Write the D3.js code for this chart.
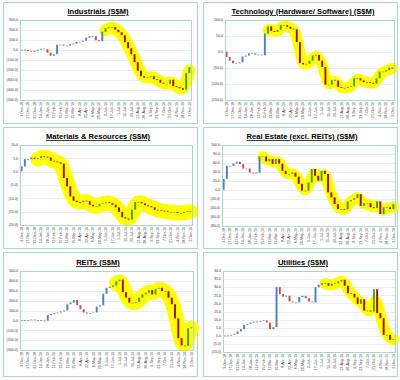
<!DOCTYPE html>
<html>
<head>
<meta charset="utf-8">
<script src="https://cdn.jsdelivr.net/npm/d3@7"></script>
<style>
  body { margin: 0; background: #fff; }
  text { font-family: "Liberation Sans", Arial, sans-serif; }
  .title { font-weight: bold; text-decoration: underline; }
</style>
</head>
<body>
<div id="chart"></div>
<script>
// weekly dates (Mondays)
var dates = ['3-Dec-18','10-Dec-18','17-Dec-18','24-Dec-18','31-Dec-18','7-Jan-19','14-Jan-19','21-Jan-19','28-Jan-19',
  '4-Feb-19','11-Feb-19','18-Feb-19','25-Feb-19','4-Mar-19','11-Mar-19','18-Mar-19','25-Mar-19','1-Apr-19','8-Apr-19',
  '15-Apr-19','22-Apr-19','29-Apr-19','6-May-19','13-May-19','20-May-19','27-May-19','3-Jun-19','10-Jun-19','17-Jun-19',
  '24-Jun-19','1-Jul-19','8-Jul-19','15-Jul-19','22-Jul-19','29-Jul-19','5-Aug-19','12-Aug-19','19-Aug-19','26-Aug-19',
  '2-Sep-19','9-Sep-19','16-Sep-19','23-Sep-19','30-Sep-19','7-Oct-19','14-Oct-19','21-Oct-19','28-Oct-19','4-Nov-19',
  '11-Nov-19','18-Nov-19','25-Nov-19','2-Dec-19'];

// cumulative net flows (S$M) at end of each week
var industrials = [0,-3,-15,-20,-10,0,10,5,-30,-60,-45,50,50,40,40,55,60,80,80,90,120,135,135,95,85,180,
  215,225,225,200,175,145,75,15,-45,-125,-210,-265,-280,-275,-265,-295,-300,-330,-340,-340,-300,-365,-375,-385,-400,-235,-175];
var technology = [-17,-28,-36,-36,-33,-15,-12,-5,-5,-9,-9,-11,57,79,65,62,68,83,83,78,72,70,30,-35,-40,-38,
  -28,-12,-10,-28,-48,-103,-103,-88,-90,-110,-113,-113,-110,-108,-83,-83,-90,-95,-95,-97,-100,-83,-62,-62,-58,-50,-53];
var materials = [1.9,4.6,4.6,5.2,4.6,5.0,5.7,5.5,5.2,4.0,3.7,3.4,2.9,-2.5,-5.6,-9.4,-11.0,-11.5,-11.6,-11.0,-11.2,-12.5,
  -13.1,-13.1,-12.2,-12.0,-11.6,-11.9,-12.5,-13.5,-15.2,-17.2,-17.7,-18.1,-14.4,-11.5,-11.5,-12.0,-12.7,-13.1,-13.5,-14.4,
  -14.6,-14.8,-15.0,-15.2,-15.2,-15.2,-15.6,-15.6,-15.2,-15.0,-15.0];
var realEstate = [24,53,53,58,62,57,47,47,38,36,38,74,74,63,68,57,68,58,42,35,35,38,29,13,-2,-2,16,46,31,20,42,35,
  -6,-17,-32,-43,-43,-44,-26,-23,-19,-10,-36,-30,-30,-39,-41,-26,-54,-39,-39,-43,-32];
var reits = [0,0,0,5,0,0,-5,-5,50,60,70,77,87,97,160,177,203,150,110,77,67,70,77,137,150,267,327,337,350,393,
  410,283,227,177,177,183,227,260,277,303,260,317,327,293,293,227,160,17,-183,-257,-263,-83,-73];
var utilities = [0,0,0.4,1,2.5,3.9,6.6,7.2,8,8.6,8.6,9,9.3,8,3.9,5.1,29.8,25.5,24,24.5,21,20.4,20.4,23.7,24.5,23,21,
  20.4,29.8,31.3,32.3,32.3,30.7,31.9,32.3,33.3,34.4,30.7,26.1,25.7,23.5,19.5,22.4,15.4,15.4,14.8,28.6,13.8,10.7,0.4,0.4,-2.7,-2.3];

var titles = ['Industrials (S$M)', 'Technology (Hardware/ Software) (S$M)', 'Materials & Resources (S$M)',
  'Real Estate (excl. REITs) (S$M)', 'REITs (S$M)', 'Utilities (S$M)'];
var seriesList = [industrials, technology, materials, realEstate, reits, utilities];
// first highlighted week of each chart
var highlightStart = [26, 13, 5, 12, 29, 31];
// y axis ticks
var yTicks = [
  [300,200,100,0,-100,-200,-300,-400,-500],
  [100,50,0,-50,-100,-150],
  [10,5,0,-5,-10,-15,-20],
  [100,80,60,40,20,0,-20,-40,-60,-80],
  [500,400,300,200,100,0,-100,-200,-300],
  [40,35,30,25,20,15,10,5,0,-5,-10]
];

// panel layout: outer box and plot area
var layout = [
  {box: [3, 2, 194, 121], plot: [20, 20, 171, 80], tx: 98, ty: 14, hw: 12},
  {box: [203, 2, 194, 121], plot: [225, 20, 169, 80], tx: 303, ty: 14, hw: 11},
  {box: [3, 127, 194, 121], plot: [20, 145, 172, 80], tx: 98, ty: 139, hw: 15},
  {box: [203, 127, 194, 121], plot: [222, 145, 173, 81], tx: 302, ty: 139, hw: 11},
  {box: [3, 252, 194, 124], plot: [20, 271, 173, 79], tx: 98, ty: 265, hw: 15},
  {box: [203, 252, 194, 124], plot: [223, 271, 172, 81], tx: 303, ty: 265, hw: 11}
];

var colors = {
  upEarly: '#4f81bd',
  downEarly: '#c0504d',
  upLate: '#4e9a2e',
  downLate: '#a50f0f',
  frame: '#a9d9c6',
  grid: '#d9d9d9',
  highlight: '#ffff00'
};

const fmt = (v) => v < 0 ? '(' + d3.format('.1f')(-v) + ')' : d3.format('.1f')(v);

var svg = d3.select('#chart').append('svg')
  .attr('width', 400)
  .attr('height', 380);

svg.append('rect').attr('width', 400).attr('height', 380).attr('fill', '#fff');

seriesList.forEach(function(values, k) {
  var L = layout[k];
  var ticks = yTicks[k];
  var g = svg.append('g');

  g.append('rect')
    .attr('x', L.box[0] + 0.5).attr('y', L.box[1] + 0.5)
    .attr('width', L.box[2]).attr('height', L.box[3])
    .attr('fill', '#fff')
    .attr('stroke', colors.frame)
    .attr('stroke-width', 1);

  g.append('text')
    .attr('class', 'title')
    .attr('x', L.tx)
    .attr('y', L.ty)
    .attr('text-anchor', 'middle')
    .style('font-size', '7.6px')
    .text(titles[k]);

  var x = d3.scaleBand()
    .domain(dates)
    .range([L.plot[0], L.plot[0] + L.plot[2]])
    .paddingInner(0.4)
    .paddingOuter(0.2);

  var y = d3.scaleLinear()
    .domain([d3.min(ticks), d3.max(ticks)])
    .range([L.plot[1] + L.plot[3], L.plot[1]]);

  // gridlines
  g.append('g').selectAll('line')
    .data(ticks)
    .enter().append('line')
    .attr('x1', L.plot[0]).attr('x2', L.plot[0] + L.plot[2])
    .attr('y1', d => Math.round(y(d)) + 0.5).attr('y2', d => Math.round(y(d)) + 0.5)
    .attr('stroke', colors.grid)
    .attr('stroke-width', 0.5);

  // y labels
  g.append('g').selectAll('text')
    .data(ticks)
    .enter().append('text')
    .attr('x', L.plot[0] - 2)
    .attr('y', d => y(d))
    .attr('dy', '0.35em')
    .attr('text-anchor', 'end')
    .style('font-size', '3.6px')
    .attr('fill', '#333')
    .text(fmt);

  // x labels (every second week)
  g.append('g').selectAll('text')
    .data(dates.filter((d, i) => i % 2 === 0))
    .enter().append('text')
    .attr('transform', d => `translate(${x(d) + x.bandwidth() / 2 + 1.2}, ${L.plot[1] + L.plot[3] + 2}) rotate(-90)`)
    .attr('text-anchor', 'end')
    .style('font-size', '3.6px')
    .attr('fill', '#333')
    .text(d => d);

  // yellow highlight band
  var pts = [];
  for (var i = highlightStart[k]; i < values.length; i++) {
    var prev = i === 0 ? 0 : values[i - 1];
    pts.push([x(dates[i]) + x.bandwidth() / 2, y((prev + values[i]) / 2)]);
  }
  g.append('path')
    .attr('d', d3.line().curve(d3.curveBasis)(pts))
    .attr('fill', 'none')
    .attr('stroke', colors.highlight)
    .attr('stroke-width', L.hw)
    .attr('stroke-linecap', 'round')
    .attr('stroke-linejoin', 'round');

  // waterfall bars
  g.append('g').selectAll('rect')
    .data(values)
    .enter().append('rect')
    .attr('x', (d, i) => x(dates[i]))
    .attr('width', x.bandwidth())
    .attr('y', function(d, i) {
      var prev = i === 0 ? 0 : values[i - 1];
      return Math.min(y(prev), y(d)) - 0.3;
    })
    .attr('height', function(d, i) {
      var prev = i === 0 ? 0 : values[i - 1];
      return Math.max(Math.abs(y(prev) - y(d)), 0.7);
    })
    .attr('fill', function(d, i) {
      var prev = i === 0 ? 0 : values[i - 1];
      var late = i >= highlightStart[k];
      if (d >= prev) return late ? colors.upLate : colors.upEarly;
      return late ? colors.downLate : colors.downEarly;
    });

  // plot frame
  g.append('rect')
    .attr('x', L.plot[0] + 0.5).attr('y', L.plot[1] + 0.5)
    .attr('width', L.plot[2]).attr('height', L.plot[3])
    .attr('fill', 'none')
    .attr('stroke', colors.frame)
    .attr('stroke-width', 1);
});
</script>
</body>
</html>
